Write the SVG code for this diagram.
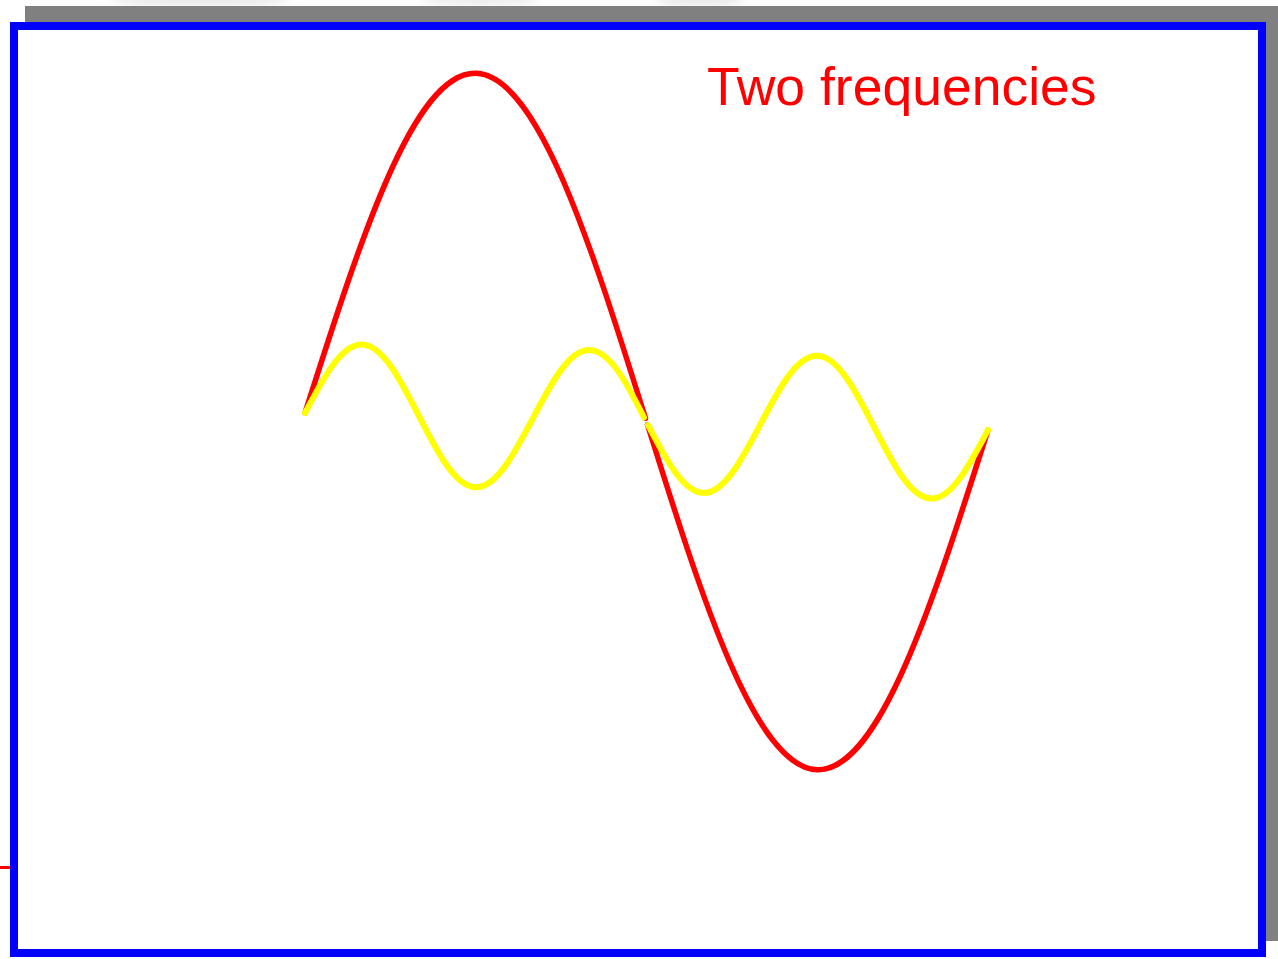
<svg xmlns="http://www.w3.org/2000/svg" width="1278" height="959" viewBox="0 0 1278 959">
  <defs>
    <filter id="blur" x="-50%" y="-50%" width="200%" height="200%">
      <feGaussianBlur stdDeviation="4"/>
    </filter>
  </defs>
  <style>
    .red { fill: none; stroke: #ff0000; stroke-width: 5.5; stroke-linecap: round; stroke-linejoin: round; }
    .yel { fill: none; stroke: #ffff00; stroke-width: 6; stroke-linecap: round; stroke-linejoin: round; }
    .title { font-family: "Liberation Sans", Arial, sans-serif; font-size: 53.5px; fill: #ff0000; }
  </style>
  <rect width="1278" height="959" fill="#ffffff"/>
  <g id="smudges" filter="url(#blur)" fill="#d8d8d8" opacity="0.6">
    <ellipse cx="200" cy="0" rx="90" ry="6"/>
    <ellipse cx="480" cy="0" rx="60" ry="5"/>
    <ellipse cx="700" cy="0" rx="45" ry="6"/>
  </g>
  <g id="frame">
    <rect x="25" y="6" width="1260" height="935" fill="#808080"/>
    <rect x="14" y="26" width="1248" height="927" fill="#ffffff" stroke="#0000ff" stroke-width="8"/>
    <line x1="0" y1="867.5" x2="10" y2="867.5" stroke="#ff0000" stroke-width="3"/>
  </g>
  <g id="waves" transform="matrix(1,0.02489,0,1,305,413)">
    <g id="red-wave">
      <path class="red" d="M0,0 C55.68,-176.2 108.96,-344 170.75,-344 C232.54,-344 285.82,-176.2 340.5,-3.2"/>
      <path class="red" d="M342.5,3.2 C397.18,176.2 450.46,344 512.25,344 C574.04,344 627.32,176.2 683,0"/>
    </g>
    <g id="yellow-wave">
      <path class="yel" d="M0,0 C18.56,-35.86 36.32,-70 56.92,-70 C77.52,-70 95.27,-35.86 113.83,0 C132.39,35.86 150.15,70 170.75,70 C191.35,70 209.11,35.86 227.67,0 C246.23,-35.86 263.99,-70 284.59,-70 C305.19,-70 322.94,-35.86 339,-4"/>
      <path class="yel" d="M343,3.5 C360.06,35.86 377.82,70 398.42,70 C419.02,70 436.77,35.86 455.33,0 C473.89,-35.86 491.65,-70 512.25,-70 C532.85,-70 550.61,-35.86 569.17,0 C587.73,35.86 605.49,70 626.09,70 C646.69,70 664.44,35.86 683,0"/>
    </g>
  </g>
  <g id="label">
    <text class="title" x="707" y="105">Two frequencies</text>
  </g>
</svg>
